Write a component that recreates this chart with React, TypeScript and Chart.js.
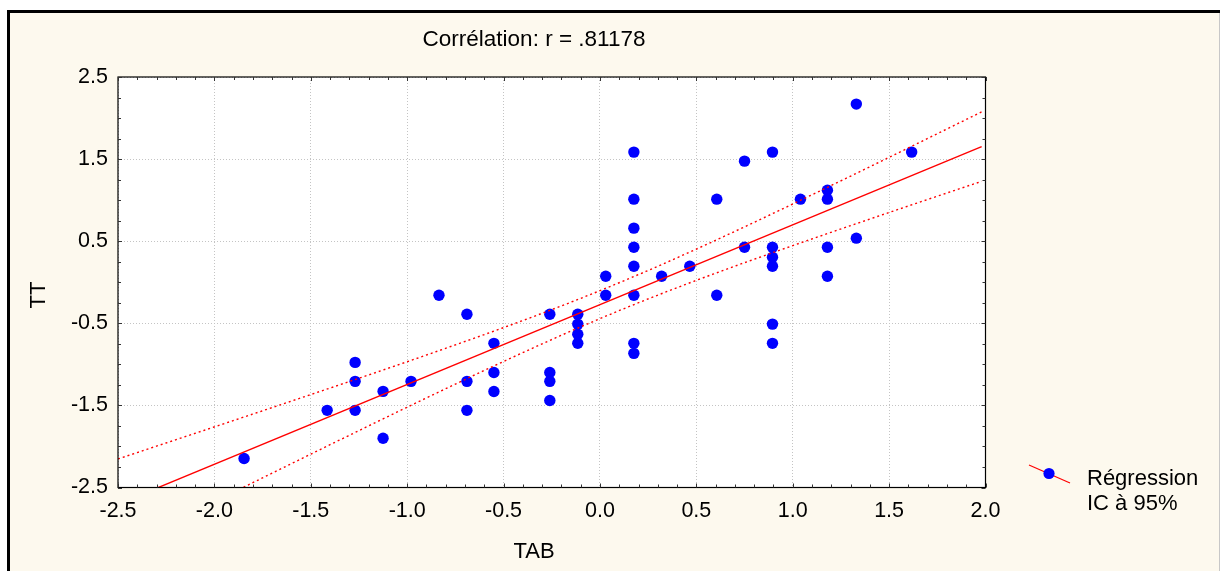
import React, { useEffect, useRef } from "react";
import { Chart, registerables } from "chart.js";

Chart.register(...registerables);

// ---- Data (standardised scores) ----
const tabValues: number[] = [
  -1.846, -1.415, -1.27, -1.27, -1.27, -1.125, -1.125, -0.98, -0.835,
  -0.69, -0.69, -0.69, -0.55, -0.55, -0.55, -0.26, -0.26, -0.26, -0.26,
  -0.115, -0.115, -0.115, -0.115, 0.03, 0.03,
  0.176, 0.176, 0.176, 0.176, 0.176, 0.176, 0.176, 0.176,
  0.32, 0.466, 0.606, 0.606, 0.75, 0.75,
  0.895, 0.895, 0.895, 0.895, 0.895, 0.895,
  1.04, 1.18, 1.18, 1.18, 1.18, 1.33, 1.33, 1.617,
];
const ttValues: number[] = [
  -2.146, -1.56, -0.976, -1.207, -1.56, -1.329, -1.9, -1.207, -0.159,
  -0.39, -1.207, -1.56, -0.744, -1.1, -1.33, -0.39, -1.1, -1.207, -1.44,
  -0.39, -0.51, -0.634, -0.744, 0.073, -0.159,
  1.585, 1.012, 0.659, 0.427, 0.195, -0.159, -0.744, -0.866,
  0.073, 0.195, 1.012, -0.159, 1.475, 0.427,
  1.585, 0.427, 0.305, 0.195, -0.51, -0.744,
  1.012, 1.12, 1.012, 0.427, 0.073, 2.17, 0.537, 1.585,
];

const xAxisRange = [-2.5, 2.0];
const yAxisRange = [-2.5, 2.5];
const xMajorStep = 0.5;
const yMajorStep = 1;
const xMinorStep = 0.1;
const yMinorStep = 0.25;
const lineXRange = [-2.5, 1.98];
const tCritical = 2.0076; // t(0.975, n-2)

const titleText = "Corrélation: r = .81178";
const xAxisTitle = "TAB";
const yAxisTitle = "TT";
const legendLabels = ["Régression", "IC à 95%"];

const FONT = '"Liberation Sans", Arial, sans-serif';

function regression(xs: number[], ys: number[]) {
  const n = xs.length;
  const mx = xs.reduce((a, b) => a + b, 0) / n;
  const my = ys.reduce((a, b) => a + b, 0) / n;
  let sxx = 0, sxy = 0;
  for (let i = 0; i < n; i++) {
    sxx += (xs[i] - mx) ** 2;
    sxy += (xs[i] - mx) * (ys[i] - my);
  }
  const slope = sxy / sxx;
  const intercept = my - slope * mx;
  let sse = 0;
  for (let i = 0; i < n; i++) sse += (ys[i] - intercept - slope * xs[i]) ** 2;
  const s = Math.sqrt(sse / (n - 2));
  return { n, mx, sxx, slope, intercept, s };
}

export default function App() {
  const canvasRef = useRef<HTMLCanvasElement | null>(null);

  useEffect(() => {
    const canvas = canvasRef.current;
    if (!canvas) return;
    const reg = regression(tabValues, ttValues);
    const fit = (x: number) => reg.intercept + reg.slope * x;
    const half = (x: number) =>
      tCritical * reg.s * Math.sqrt(1 / reg.n + (x - reg.mx) ** 2 / reg.sxx);

    const samples = 90;
    const xs: number[] = [];
    for (let i = 0; i <= samples; i++)
      xs.push(lineXRange[0] + ((lineXRange[1] - lineXRange[0]) * i) / samples);

    const fitLine = [lineXRange[0], lineXRange[1]].map((x) => ({ x, y: fit(x) }));
    const upper = xs.map((x) => ({ x, y: fit(x) + half(x) }));
    const lower = xs.map((x) => ({ x, y: fit(x) - half(x) }));
    const points = tabValues.map((x, i) => ({ x, y: ttValues[i] }));

    const framePlugin = {
      id: "frame",
      beforeDraw(chart: any) {
        const { ctx, width, height, chartArea: ca } = chart;
        ctx.save();
        ctx.fillStyle = "#ffffff";
        ctx.fillRect(0, 0, width, height);
        ctx.fillStyle = "#fdf9ee";
        ctx.fillRect(7, 10, width - 7, height - 10);
        ctx.fillStyle = "#000000";
        ctx.fillRect(7, 10, width - 7, 3);
        ctx.fillRect(7, 10, 3, height - 10);
        ctx.fillStyle = "#c8c8c8";
        ctx.fillRect(width - 1, 13, 1, height - 13);
        ctx.fillStyle = "#ffffff";
        ctx.fillRect(ca.left, ca.top, ca.right - ca.left, ca.bottom - ca.top);
        ctx.restore();
      },
      afterDraw(chart: any) {
        const { ctx, chartArea: ca } = chart;
        const xs = chart.scales.x;
        const ys = chart.scales.y;
        ctx.save();
        // plot frame
        ctx.strokeStyle = "#000";
        ctx.lineWidth = 1.2;
        ctx.strokeRect(ca.left, ca.top, ca.right - ca.left, ca.bottom - ca.top);
        // ticks
        ctx.strokeStyle = "#333";
        ctx.lineWidth = 1;
        ctx.beginPath();
        const nx = Math.round((xAxisRange[1] - xAxisRange[0]) / xMinorStep);
        const perX = Math.round(xMajorStep / xMinorStep);
        for (let i = 0; i <= nx; i++) {
          const v = xAxisRange[0] + i * xMinorStep;
          const px = Math.round(xs.getPixelForValue(v)) + 0.5;
          const len = i % perX === 0 ? 4 : 3;
          ctx.moveTo(px, ca.bottom);
          ctx.lineTo(px, ca.bottom - len);
          ctx.moveTo(px, ca.top);
          ctx.lineTo(px, ca.top + len);
        }
        const ny = Math.round((yAxisRange[1] - yAxisRange[0]) / yMinorStep);
        const perY = Math.round(yMajorStep / yMinorStep);
        for (let i = 0; i <= ny; i++) {
          const v = yAxisRange[0] + i * yMinorStep;
          const py = Math.round(ys.getPixelForValue(v)) + 0.5;
          const len = i % perY === 0 ? 4 : 3;
          ctx.moveTo(ca.left, py);
          ctx.lineTo(ca.left + len, py);
          ctx.moveTo(ca.right, py);
          ctx.lineTo(ca.right - len, py);
        }
        ctx.stroke();

        // titles
        ctx.fillStyle = "#000";
        ctx.font = `22.5px ${FONT}`;
        ctx.textAlign = "center";
        ctx.textBaseline = "alphabetic";
        ctx.fillText(titleText, 534, 46);
        ctx.font = `22px ${FONT}`;
        ctx.fillText(xAxisTitle, 534, 558);
        ctx.save();
        ctx.translate(45, 295);
        ctx.rotate(-Math.PI / 2);
        ctx.fillText(yAxisTitle, 0, 0);
        ctx.restore();

        // legend
        const lx = ca.right + 63.5;
        const ly = 473.5;
        ctx.strokeStyle = "#ff0000";
        ctx.lineWidth = 1.2;
        ctx.beginPath();
        ctx.moveTo(lx - 20, ly - 8.5);
        ctx.lineTo(lx + 21, ly + 9.5);
        ctx.stroke();
        ctx.fillStyle = "#0000ff";
        ctx.beginPath();
        ctx.arc(lx, ly, 5.6, 0, Math.PI * 2);
        ctx.fill();
        ctx.fillStyle = "#000";
        ctx.textAlign = "left";
        ctx.textBaseline = "alphabetic";
        ctx.font = `22px ${FONT}`;
        ctx.fillText(legendLabels[0], lx + 38, 485);
        ctx.fillText(legendLabels[1], lx + 38, 510);
        ctx.restore();
      },
    };

    const tickFont = { family: FONT, size: 21.5 };

    const chart = new Chart(canvas, {
      type: "scatter",
      data: {
        datasets: [
          {
            type: "line",
            label: "fit",
            data: fitLine,
            borderColor: "#ff0000",
            borderWidth: 1.4,
            pointRadius: 0,
            showLine: true,
            order: 1,
          } as any,
          {
            type: "line",
            label: "upper",
            data: upper,
            borderColor: "#ff0000",
            borderWidth: 1.4,
            borderDash: [2, 3],
            pointRadius: 0,
            showLine: true,
            tension: 0,
            order: 1,
          } as any,
          {
            type: "line",
            label: "lower",
            data: lower,
            borderColor: "#ff0000",
            borderWidth: 1.4,
            borderDash: [2, 3],
            pointRadius: 0,
            showLine: true,
            tension: 0,
            order: 1,
          } as any,
          {
            type: "scatter",
            label: "TT",
            data: points,
            backgroundColor: "#0000ff",
            borderColor: "#0000ff",
            borderWidth: 0,
            pointRadius: 5.7,
            order: 2,
          },
        ],
      },
      options: {
        animation: false,
        responsive: false,
        events: [],
        layout: { padding: { left: 0, top: 77, right: 234.5, bottom: 0 } },
        plugins: {
          legend: { display: false },
          title: { display: false },
          tooltip: { enabled: false },
        },
        scales: {
          x: {
            type: "linear",
            min: xAxisRange[0],
            max: xAxisRange[1],
            afterFit: (s: any) => {
              s.height = 83.5;
            },
            ticks: {
              stepSize: xMajorStep,
              autoSkip: false,
              maxRotation: 0,
              padding: 11,
              color: "#000",
              font: tickFont,
              callback: (v: any) => Number(v).toFixed(1),
            },
            grid: { color: "#c4c4c4", lineWidth: 1, drawTicks: false },
            border: { display: false, dash: [1, 2] },
          },
          y: {
            type: "linear",
            min: yAxisRange[0],
            max: yAxisRange[1],
            afterFit: (s: any) => {
              s.width = 118;
            },
            ticks: {
              stepSize: yMajorStep,
              autoSkip: false,
              padding: 10,
              color: "#000",
              font: tickFont,
              callback: (v: any) => Number(v).toFixed(1),
            },
            grid: { color: "#c4c4c4", lineWidth: 1, drawTicks: false },
            border: { display: false, dash: [1, 2] },
          },
        },
      },
      plugins: [framePlugin],
    } as any);

    return () => chart.destroy();
  }, []);

  return (
    <div style={{ position: "fixed", left: 0, top: 0, width: 1220, height: 571 }}>
      <canvas ref={canvasRef} width={1220} height={571} style={{ display: "block" }} />
    </div>
  );
}
